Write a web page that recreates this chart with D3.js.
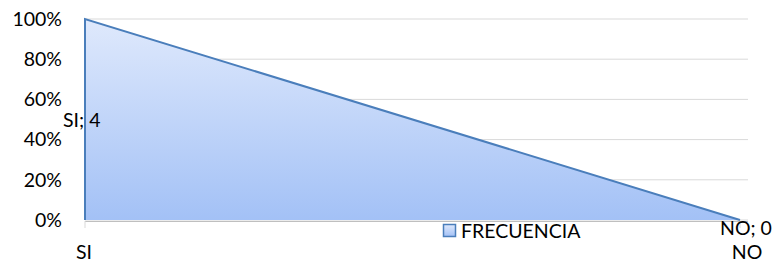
<!DOCTYPE html>
<html>
<head>
<meta charset="utf-8">
<script src="https://cdn.jsdelivr.net/npm/d3@7"></script>
<style>
  body { margin: 0; background: #fff; }
  text { font-family: Lato, "Open Sans", sans-serif; fill: #000; }
</style>
</head>
<body>
<div class="canvas"></div>
<script>
// data
const categories = ['SI', 'NO'];
const frecuencia = [4, 0];
const percent = [100, 0];   // 100% stacked share shown on the axis
const yTicks = [0, 20, 40, 60, 80, 100];
const seriesName = 'FRECUENCIA';

const fs = '19.5px';

const svg = d3.select('.canvas')
    .append('svg')
    .attr('width', 775)
    .attr('height', 266);

const x = d3.scalePoint()
    .domain(categories)
    .range([85, 740]);

const y = d3.scaleLinear()
    .domain([0, 100])
    .range([220, 19]);

// gradient fill
const defs = svg.append('defs');
const grad = defs.append('linearGradient')
    .attr('id', 'fill')
    .attr('x1', 0).attr('y1', 0).attr('x2', 0).attr('y2', 1);
grad.append('stop').attr('offset', '0%').attr('stop-color', '#dfe9fc');
grad.append('stop').attr('offset', '100%').attr('stop-color', '#a3c1f6');

// gridlines
svg.append('g')
    .selectAll('line')
    .data(yTicks)
    .enter()
    .append('line')
    .attr('x1', 85)
    .attr('x2', 748)
    .attr('y1', d => y(d))
    .attr('y2', d => y(d))
    .attr('stroke', '#d9d9d9')
    .attr('stroke-width', 1);

// y labels
svg.append('g')
    .selectAll('text')
    .data(yTicks)
    .enter()
    .append('text')
    .attr('x', 62)
    .attr('y', d => y(d))
    .attr('dy', '0.35em')
    .attr('text-anchor', 'end')
    .style('font-size', fs)
    .text(d => d + '%');

// area
const pts = categories.map((c, i) => ({ c, v: frecuencia[i], p: percent[i] }));

const area = d3.area()
    .x(d => x(d.c))
    .y0(y(0))
    .y1(d => y(d.p));

svg.append('path')
    .datum(pts)
    .attr('d', area)
    .attr('fill', 'url(#fill)')
    .attr('stroke', 'none');

// outline (top + left edge)
const outline = [{ c: 'SI', p: 0 }].concat(pts);
svg.append('path')
    .datum(outline)
    .attr('d', d3.line().x(d => x(d.c)).y(d => y(d.p)))
    .attr('fill', 'none')
    .attr('stroke', '#4a7ebb')
    .attr('stroke-width', 2);

// x axis line + ticks
svg.append('line')
    .attr('x1', 85).attr('x2', 748)
    .attr('y1', y(0) + 1.5).attr('y2', y(0) + 1.5)
    .attr('stroke', '#bfbfbf');
svg.append('g')
    .selectAll('line')
    .data(categories)
    .enter()
    .append('line')
    .attr('x1', d => x(d)).attr('x2', d => x(d))
    .attr('y1', y(0) + 1).attr('y2', y(0) + 8)
    .attr('stroke', '#d9d9d9');

// category labels
svg.append('g')
    .selectAll('text')
    .data(categories)
    .enter()
    .append('text')
    .attr('x', (d, i) => i === 0 ? x(d) - 1 : 747)
    .attr('y', 252)
    .attr('dy', '0.35em')
    .attr('text-anchor', 'middle')
    .style('font-size', fs)
    .text(d => d);

// data labels
svg.append('text')
    .attr('x', 63)
    .attr('y', 120)
    .attr('dy', '0.35em')
    .style('font-size', fs)
    .text(`${categories[0]}; ${frecuencia[0]}`);

svg.append('text')
    .attr('x', 720)
    .attr('y', 228)
    .attr('dy', '0.35em')
    .style('font-size', fs)
    .text(`${categories[1]}; ${frecuencia[1]}`);

// legend
svg.append('rect')
    .attr('x', 443.5).attr('y', 224.5)
    .attr('width', 12).attr('height', 12)
    .attr('fill', 'url(#fill)')
    .attr('stroke', '#4a7ebb')
    .attr('stroke-width', 1.5);
svg.append('text')
    .attr('x', 461)
    .attr('y', 231)
    .attr('dy', '0.35em')
    .style('font-size', fs)
    .text(seriesName);
</script>
</body>
</html>
